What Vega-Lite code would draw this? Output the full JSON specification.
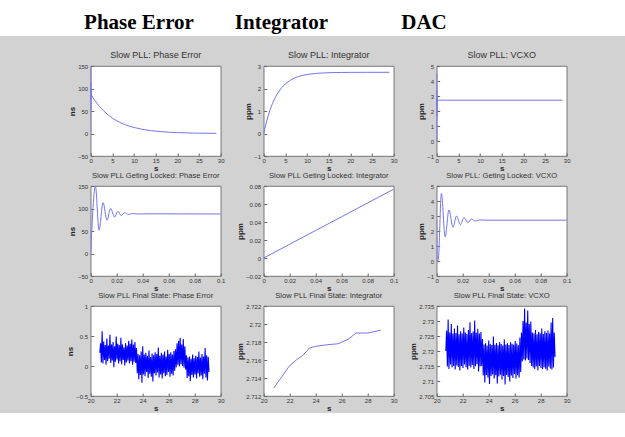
{
  "$schema": "https://vega.github.io/schema/vega-lite/v6.json",
  "padding": 0,
  "background": "#d2d2d2",
  "spacing": 14,
  "center": true,
  "datasets": {
    "p1": [{"t":0,"v":0},{"t":0.0036,"v":150},{"t":0.0064,"v":52},{"t":0.0095,"v":113},{"t":0.0125,"v":74},{"t":0.0153,"v":100},{"t":0.03,"v":88},{"t":0.5,"v":80.1},{"t":1,"v":72.9},{"t":1.5,"v":66.3},{"t":2,"v":60.3},{"t":3,"v":50.0},{"t":4,"v":41.4},{"t":5,"v":34.3},{"t":6,"v":28.4},{"t":7,"v":23.5},{"t":8,"v":19.5},{"t":9,"v":16.1},{"t":10,"v":13.3},{"t":12,"v":9.1},{"t":14,"v":6.3},{"t":16,"v":4.3},{"t":18,"v":2.9},{"t":20,"v":2.0},{"t":22,"v":1.4},{"t":24,"v":0.9},{"t":26,"v":0.6},{"t":29,"v":0.4}],
    "p2": [{"t":0,"v":0},{"t":0.5,"v":0.418},{"t":1,"v":0.771},{"t":1.5,"v":1.070},{"t":2,"v":1.324},{"t":2.5,"v":1.538},{"t":3,"v":1.719},{"t":4,"v":2.003},{"t":5,"v":2.206},{"t":6,"v":2.352},{"t":7,"v":2.456},{"t":8,"v":2.531},{"t":9,"v":2.585},{"t":10,"v":2.623},{"t":12,"v":2.670},{"t":14,"v":2.694},{"t":16,"v":2.707},{"t":18,"v":2.713},{"t":20,"v":2.716},{"t":24,"v":2.719},{"t":29,"v":2.72}],
    "p3": [{"t":0,"v":2.72},{"t":0.0004,"v":0},{"t":0.0036,"v":4.5},{"t":0.0065,"v":1.6},{"t":0.0094,"v":3.4},{"t":0.0125,"v":2.25},{"t":0.0153,"v":3.0},{"t":0.033,"v":2.72},{"t":29,"v":2.72}],
    "p4": [{"t":0,"v":0},{"t":0.0036,"v":150},{"t":0.0064,"v":52},{"t":0.0095,"v":113},{"t":0.0125,"v":74},{"t":0.0153,"v":100},{"t":0.0184,"v":81},{"t":0.0209,"v":94},{"t":0.0235,"v":84},{"t":0.026,"v":91},{"t":0.029,"v":86.5},{"t":0.032,"v":89},{"t":0.036,"v":87.8},{"t":0.045,"v":88.2},{"t":0.1,"v":87.8}],
    "p5": [{"t":0,"v":0},{"t":0.02,"v":0.0153},{"t":0.04,"v":0.0306},{"t":0.06,"v":0.0459},{"t":0.08,"v":0.0612},{"t":0.1,"v":0.0765}],
    "p6": [{"t":0,"v":2.72},{"t":0.0004,"v":0},{"t":0.0012,"v":0.1},{"t":0.0036,"v":4.5},{"t":0.0065,"v":1.6},{"t":0.0094,"v":3.4},{"t":0.0125,"v":2.25},{"t":0.0153,"v":3.0},{"t":0.0182,"v":2.42},{"t":0.021,"v":2.9},{"t":0.024,"v":2.56},{"t":0.0268,"v":2.8},{"t":0.0296,"v":2.66},{"t":0.033,"v":2.74},{"t":0.038,"v":2.72},{"t":0.1,"v":2.72}],
    "p7": [{"t":20.70,"v":0.22},{"t":20.76,"v":0.38},{"t":20.82,"v":0.06},{"t":20.88,"v":0.58},{"t":20.94,"v":0.04},{"t":21.00,"v":0.41},{"t":21.06,"v":0.10},{"t":21.12,"v":0.35},{"t":21.18,"v":0.02},{"t":21.24,"v":0.46},{"t":21.30,"v":0.08},{"t":21.36,"v":0.34},{"t":21.42,"v":0.12},{"t":21.48,"v":0.52},{"t":21.54,"v":0.05},{"t":21.60,"v":0.36},{"t":21.66,"v":0.09},{"t":21.72,"v":0.40},{"t":21.78,"v":-0.02},{"t":21.84,"v":0.33},{"t":21.90,"v":0.07},{"t":21.96,"v":0.49},{"t":22.02,"v":0.11},{"t":22.08,"v":0.37},{"t":22.14,"v":0.04},{"t":22.20,"v":0.35},{"t":22.26,"v":0.08},{"t":22.32,"v":0.47},{"t":22.38,"v":0.03},{"t":22.44,"v":0.36},{"t":22.50,"v":0.10},{"t":22.56,"v":0.31},{"t":22.62,"v":0.01},{"t":22.68,"v":0.38},{"t":22.74,"v":0.06},{"t":22.80,"v":0.34},{"t":22.86,"v":0.09},{"t":22.92,"v":0.42},{"t":22.98,"v":0.04},{"t":23.04,"v":0.37},{"t":23.10,"v":0.08},{"t":23.16,"v":0.44},{"t":23.22,"v":0.02},{"t":23.28,"v":0.36},{"t":23.34,"v":0.07},{"t":23.40,"v":0.40},{"t":23.46,"v":0.05},{"t":23.52,"v":0.30},{"t":23.58,"v":-0.12},{"t":23.64,"v":0.20},{"t":23.70,"v":-0.22},{"t":23.76,"v":0.18},{"t":23.82,"v":-0.15},{"t":23.88,"v":0.24},{"t":23.94,"v":-0.28},{"t":24.00,"v":0.33},{"t":24.06,"v":-0.14},{"t":24.12,"v":0.19},{"t":24.18,"v":-0.17},{"t":24.24,"v":0.22},{"t":24.30,"v":-0.10},{"t":24.36,"v":0.17},{"t":24.42,"v":-0.20},{"t":24.48,"v":0.26},{"t":24.54,"v":-0.13},{"t":24.60,"v":0.15},{"t":24.66,"v":-0.18},{"t":24.72,"v":0.21},{"t":24.78,"v":-0.26},{"t":24.84,"v":0.18},{"t":24.90,"v":-0.12},{"t":24.96,"v":0.23},{"t":25.02,"v":-0.16},{"t":25.08,"v":0.20},{"t":25.14,"v":-0.11},{"t":25.20,"v":0.31},{"t":25.26,"v":-0.19},{"t":25.32,"v":0.17},{"t":25.38,"v":-0.14},{"t":25.44,"v":0.22},{"t":25.50,"v":-0.21},{"t":25.56,"v":0.19},{"t":25.62,"v":-0.12},{"t":25.68,"v":0.24},{"t":25.74,"v":-0.17},{"t":25.80,"v":0.16},{"t":25.86,"v":-0.15},{"t":25.92,"v":0.27},{"t":25.98,"v":-0.10},{"t":26.04,"v":0.20},{"t":26.10,"v":-0.18},{"t":26.16,"v":0.23},{"t":26.22,"v":-0.13},{"t":26.28,"v":0.19},{"t":26.34,"v":-0.16},{"t":26.40,"v":0.25},{"t":26.46,"v":-0.08},{"t":26.52,"v":0.28},{"t":26.58,"v":-0.02},{"t":26.64,"v":0.38},{"t":26.70,"v":0.02},{"t":26.76,"v":0.42},{"t":26.82,"v":-0.01},{"t":26.88,"v":0.47},{"t":26.94,"v":0.03},{"t":27.00,"v":0.36},{"t":27.06,"v":0.00},{"t":27.12,"v":0.45},{"t":27.18,"v":-0.03},{"t":27.24,"v":0.33},{"t":27.30,"v":-0.06},{"t":27.36,"v":0.18},{"t":27.42,"v":-0.20},{"t":27.48,"v":0.14},{"t":27.54,"v":-0.17},{"t":27.60,"v":0.16},{"t":27.66,"v":-0.25},{"t":27.72,"v":0.12},{"t":27.78,"v":-0.15},{"t":27.84,"v":0.19},{"t":27.90,"v":-0.19},{"t":27.96,"v":0.13},{"t":28.02,"v":-0.14},{"t":28.08,"v":0.17},{"t":28.14,"v":-0.21},{"t":28.20,"v":0.15},{"t":28.26,"v":-0.12},{"t":28.32,"v":0.24},{"t":28.38,"v":-0.18},{"t":28.44,"v":0.14},{"t":28.50,"v":-0.16},{"t":28.56,"v":0.20},{"t":28.62,"v":-0.22},{"t":28.68,"v":0.16},{"t":28.74,"v":-0.13},{"t":28.80,"v":0.30},{"t":28.86,"v":-0.19},{"t":28.92,"v":0.18},{"t":28.98,"v":-0.24},{"t":29.04,"v":0.15},{"t":29.10,"v":-0.10}],
    "p8": [{"t":20.77,"v":2.7129},{"t":21.33,"v":2.7140},{"t":21.95,"v":2.7153},{"t":22.5,"v":2.7160},{"t":23.0,"v":2.7165},{"t":23.5,"v":2.7173},{"t":23.9,"v":2.7175},{"t":24.9,"v":2.7177},{"t":25.7,"v":2.7178},{"t":26.5,"v":2.7183},{"t":27.1,"v":2.7190},{"t":28.0,"v":2.7190},{"t":29.0,"v":2.7193}],
    "p9": [{"t":20.70,"v":2.7200},{"t":20.76,"v":2.7268},{"t":20.82,"v":2.7148},{"t":20.88,"v":2.7305},{"t":20.94,"v":2.7140},{"t":21.00,"v":2.7262},{"t":21.06,"v":2.7155},{"t":21.12,"v":2.7290},{"t":21.18,"v":2.7145},{"t":21.24,"v":2.7258},{"t":21.30,"v":2.7150},{"t":21.36,"v":2.7275},{"t":21.42,"v":2.7138},{"t":21.48,"v":2.7260},{"t":21.54,"v":2.7152},{"t":21.60,"v":2.7285},{"t":21.66,"v":2.7147},{"t":21.72,"v":2.7256},{"t":21.78,"v":2.7135},{"t":21.84,"v":2.7266},{"t":21.90,"v":2.7150},{"t":21.96,"v":2.7258},{"t":22.02,"v":2.7143},{"t":22.08,"v":2.7278},{"t":22.14,"v":2.7155},{"t":22.20,"v":2.7262},{"t":22.26,"v":2.7146},{"t":22.32,"v":2.7257},{"t":22.38,"v":2.7138},{"t":22.44,"v":2.7270},{"t":22.50,"v":2.7151},{"t":22.56,"v":2.7296},{"t":22.62,"v":2.7145},{"t":22.68,"v":2.7259},{"t":22.74,"v":2.7153},{"t":22.80,"v":2.7265},{"t":22.86,"v":2.7140},{"t":22.92,"v":2.7302},{"t":22.98,"v":2.7149},{"t":23.04,"v":2.7261},{"t":23.10,"v":2.7156},{"t":23.16,"v":2.7274},{"t":23.22,"v":2.7132},{"t":23.28,"v":2.7258},{"t":23.34,"v":2.7148},{"t":23.40,"v":2.7263},{"t":23.46,"v":2.7150},{"t":23.52,"v":2.7240},{"t":23.58,"v":2.7118},{"t":23.64,"v":2.7222},{"t":23.70,"v":2.7095},{"t":23.76,"v":2.7226},{"t":23.82,"v":2.7120},{"t":23.88,"v":2.7218},{"t":23.94,"v":2.7112},{"t":24.00,"v":2.7235},{"t":24.06,"v":2.7090},{"t":24.12,"v":2.7224},{"t":24.18,"v":2.7117},{"t":24.24,"v":2.7220},{"t":24.30,"v":2.7122},{"t":24.36,"v":2.7248},{"t":24.42,"v":2.7108},{"t":24.48,"v":2.7221},{"t":24.54,"v":2.7119},{"t":24.60,"v":2.7227},{"t":24.66,"v":2.7092},{"t":24.72,"v":2.7219},{"t":24.78,"v":2.7115},{"t":24.84,"v":2.7230},{"t":24.90,"v":2.7121},{"t":24.96,"v":2.7223},{"t":25.02,"v":2.7105},{"t":25.08,"v":2.7218},{"t":25.14,"v":2.7117},{"t":25.20,"v":2.7238},{"t":25.26,"v":2.7088},{"t":25.32,"v":2.7222},{"t":25.38,"v":2.7120},{"t":25.44,"v":2.7226},{"t":25.50,"v":2.7113},{"t":25.56,"v":2.7220},{"t":25.62,"v":2.7098},{"t":25.68,"v":2.7229},{"t":25.74,"v":2.7118},{"t":25.80,"v":2.7224},{"t":25.86,"v":2.7110},{"t":25.92,"v":2.7221},{"t":25.98,"v":2.7123},{"t":26.04,"v":2.7233},{"t":26.10,"v":2.7108},{"t":26.16,"v":2.7225},{"t":26.22,"v":2.7119},{"t":26.28,"v":2.7219},{"t":26.34,"v":2.7112},{"t":26.40,"v":2.7245},{"t":26.46,"v":2.7130},{"t":26.52,"v":2.7262},{"t":26.58,"v":2.7165},{"t":26.64,"v":2.7300},{"t":26.70,"v":2.7172},{"t":26.76,"v":2.7342},{"t":26.82,"v":2.7168},{"t":26.88,"v":2.7295},{"t":26.94,"v":2.7175},{"t":27.00,"v":2.7335},{"t":27.06,"v":2.7170},{"t":27.12,"v":2.7290},{"t":27.18,"v":2.7160},{"t":27.24,"v":2.7298},{"t":27.30,"v":2.7150},{"t":27.36,"v":2.7262},{"t":27.42,"v":2.7145},{"t":27.48,"v":2.7258},{"t":27.54,"v":2.7140},{"t":27.60,"v":2.7270},{"t":27.66,"v":2.7148},{"t":27.72,"v":2.7256},{"t":27.78,"v":2.7136},{"t":27.84,"v":2.7264},{"t":27.90,"v":2.7150},{"t":27.96,"v":2.7259},{"t":28.02,"v":2.7143},{"t":28.08,"v":2.7275},{"t":28.14,"v":2.7139},{"t":28.20,"v":2.7257},{"t":28.26,"v":2.7146},{"t":28.32,"v":2.7266},{"t":28.38,"v":2.7141},{"t":28.44,"v":2.7260},{"t":28.50,"v":2.7135},{"t":28.56,"v":2.7268},{"t":28.62,"v":2.7148},{"t":28.68,"v":2.7258},{"t":28.74,"v":2.7142},{"t":28.80,"v":2.7295},{"t":28.86,"v":2.7138},{"t":28.92,"v":2.7310},{"t":28.98,"v":2.7145},{"t":29.04,"v":2.7262},{"t":29.10,"v":2.7180}]
  },
  "vconcat": [
    {
      "width": 625,
      "height": 36,
      "view": {"fill": "white", "stroke": null},
      "data": {"values": [{"h": "Phase Error"}, {"h": "Integrator"}, {"h": "DAC"}]},
      "mark": {"type": "text", "font": "Liberation Serif", "fontSize": 21, "fontWeight": "bold", "color": "black", "baseline": "alphabetic", "dy": 11},
      "encoding": {
        "x": {"field": "h", "type": "nominal", "sort": null, "scale": {"type": "point", "range": [139, 424], "padding": 0}, "axis": null},
        "text": {"field": "h"}
      }
    },
    {
      "bounds": "flush",
      "spacing": 10,
      "hconcat": [
        {
          "width": 27,
          "height": 10,
          "view": {"fill": null, "stroke": null},
          "data": {"values": [{"s": ""}]},
          "mark": {"type": "text"},
          "encoding": {"text": {"field": "s"}}
        },
        {
          "columns": 3,
          "bounds": "flush",
          "spacing": {"row": 30, "column": 43},
          "concat": [
            {"width": 130, "height": 90, "title": {"text": "Slow PLL: Phase Error", "fontSize": 9},
             "data": {"name": "p1"}, "mark": {"type": "line", "color": "#7474f2", "strokeWidth": 1, "clip": true},
             "encoding": {"x": {"field": "t", "type": "quantitative", "scale": {"domain": [0, 30], "nice": false, "zero": false}, "axis": {"values": [0,5,10,15,20,25,30], "title": "s"}},
                          "y": {"field": "v", "type": "quantitative", "scale": {"domain": [-50, 150], "nice": false, "zero": false}, "axis": {"values": [-50,0,50,100,150], "title": "ns"}}}},
            {"width": 130, "height": 90, "title": {"text": "Slow PLL: Integrator", "fontSize": 9},
             "data": {"name": "p2"}, "mark": {"type": "line", "color": "#7474f2", "strokeWidth": 1, "clip": true},
             "encoding": {"x": {"field": "t", "type": "quantitative", "scale": {"domain": [0, 30], "nice": false, "zero": false}, "axis": {"values": [0,5,10,15,20,25,30], "title": "s"}},
                          "y": {"field": "v", "type": "quantitative", "scale": {"domain": [-1, 3], "nice": false, "zero": false}, "axis": {"values": [-1,0,1,2,3], "title": "ppm"}}}},
            {"width": 130, "height": 90, "title": {"text": "Slow PLL: VCXO", "fontSize": 9},
             "data": {"name": "p3"}, "mark": {"type": "line", "color": "#7474f2", "strokeWidth": 1, "clip": true},
             "encoding": {"x": {"field": "t", "type": "quantitative", "scale": {"domain": [0, 30], "nice": false, "zero": false}, "axis": {"values": [0,5,10,15,20,25,30], "title": "s"}},
                          "y": {"field": "v", "type": "quantitative", "scale": {"domain": [-1, 5], "nice": false, "zero": false}, "axis": {"values": [-1,0,1,2,3,4,5], "title": "ppm"}}}},
            {"width": 130, "height": 90, "title": "Slow PLL Geting Locked: Phase Error",
             "data": {"name": "p4"}, "mark": {"type": "line", "color": "#7474f2", "strokeWidth": 1, "interpolate": "monotone", "clip": true},
             "encoding": {"x": {"field": "t", "type": "quantitative", "scale": {"domain": [0, 0.1], "nice": false, "zero": false}, "axis": {"values": [0,0.02,0.04,0.06,0.08,0.1], "title": "s"}},
                          "y": {"field": "v", "type": "quantitative", "scale": {"domain": [-50, 150], "nice": false, "zero": false}, "axis": {"values": [-50,0,50,100,150], "title": "ns"}}}},
            {"width": 130, "height": 90, "title": "Slow PLL Geting Locked: Integrator",
             "data": {"name": "p5"}, "mark": {"type": "line", "color": "#7474f2", "strokeWidth": 1, "clip": true},
             "encoding": {"x": {"field": "t", "type": "quantitative", "scale": {"domain": [0, 0.1], "nice": false, "zero": false}, "axis": {"values": [0,0.02,0.04,0.06,0.08,0.1], "title": "s"}},
                          "y": {"field": "v", "type": "quantitative", "scale": {"domain": [-0.02, 0.08], "nice": false, "zero": false}, "axis": {"values": [-0.02,0,0.02,0.04,0.06,0.08], "title": "ppm"}}}},
            {"width": 130, "height": 90, "title": "Slow PLL: Geting Locked: VCXO",
             "data": {"name": "p6"}, "mark": {"type": "line", "color": "#7474f2", "strokeWidth": 1, "interpolate": "monotone", "clip": true},
             "encoding": {"x": {"field": "t", "type": "quantitative", "scale": {"domain": [0, 0.1], "nice": false, "zero": false}, "axis": {"values": [0,0.02,0.04,0.06,0.08,0.1], "title": "s"}},
                          "y": {"field": "v", "type": "quantitative", "scale": {"domain": [-1, 5], "nice": false, "zero": false}, "axis": {"values": [-1,0,1,2,3,4,5], "title": "ppm"}}}},
            {"width": 130, "height": 90, "title": "Slow PLL Final State: Phase Error",
             "data": {"name": "p7"}, "mark": {"type": "line", "color": "#0000ff", "strokeWidth": 1.1, "clip": true},
             "encoding": {"x": {"field": "t", "type": "quantitative", "scale": {"domain": [20, 30], "nice": false, "zero": false}, "axis": {"values": [20,22,24,26,28,30], "title": "s"}},
                          "y": {"field": "v", "type": "quantitative", "scale": {"domain": [-0.5, 1], "nice": false, "zero": false}, "axis": {"values": [-0.5,0,0.5,1], "title": "ns"}}}},
            {"width": 130, "height": 90, "title": "Slow PLL Final State: Integrator",
             "data": {"name": "p8"}, "mark": {"type": "line", "color": "#7474f2", "strokeWidth": 1, "clip": true},
             "encoding": {"x": {"field": "t", "type": "quantitative", "scale": {"domain": [20, 30], "nice": false, "zero": false}, "axis": {"values": [20,22,24,26,28,30], "title": "s"}},
                          "y": {"field": "v", "type": "quantitative", "scale": {"domain": [2.712, 2.722], "nice": false, "zero": false}, "axis": {"values": [2.712,2.714,2.716,2.718,2.72,2.722], "title": "ppm"}}}},
            {"width": 130, "height": 90, "title": "Slow PLL Final State: VCXO",
             "data": {"name": "p9"}, "mark": {"type": "line", "color": "#0000ff", "strokeWidth": 1.1, "clip": true},
             "encoding": {"x": {"field": "t", "type": "quantitative", "scale": {"domain": [20, 30], "nice": false, "zero": false}, "axis": {"values": [20,22,24,26,28,30], "title": "s"}},
                          "y": {"field": "v", "type": "quantitative", "scale": {"domain": [2.705, 2.735], "nice": false, "zero": false}, "axis": {"values": [2.705,2.71,2.715,2.72,2.725,2.73,2.735], "title": "ppm"}}}}
          ]
        }
      ]
    }
  ],
  "config": {
    "view": {"fill": "white", "stroke": "#5a5a5a", "strokeWidth": 0.8},
    "axis": {"labelFont": "Liberation Sans", "labelFontSize": 6, "labelColor": "#333333", "titleFont": "Liberation Sans", "titleFontSize": 8, "titleFontWeight": "bold", "titleColor": "#222222", "tickSize": -3, "tickColor": "#666666", "domain": false, "grid": false, "titlePadding": 1, "labelFlush": false, "labelOverlap": false, "format": "~r"},
    "axisX": {"labelPadding": 4},
    "axisY": {"labelPadding": 6},
    "title": {"font": "Liberation Sans", "fontSize": 7.6, "fontWeight": "normal", "color": "#333333", "offset": 3}
  }
}
